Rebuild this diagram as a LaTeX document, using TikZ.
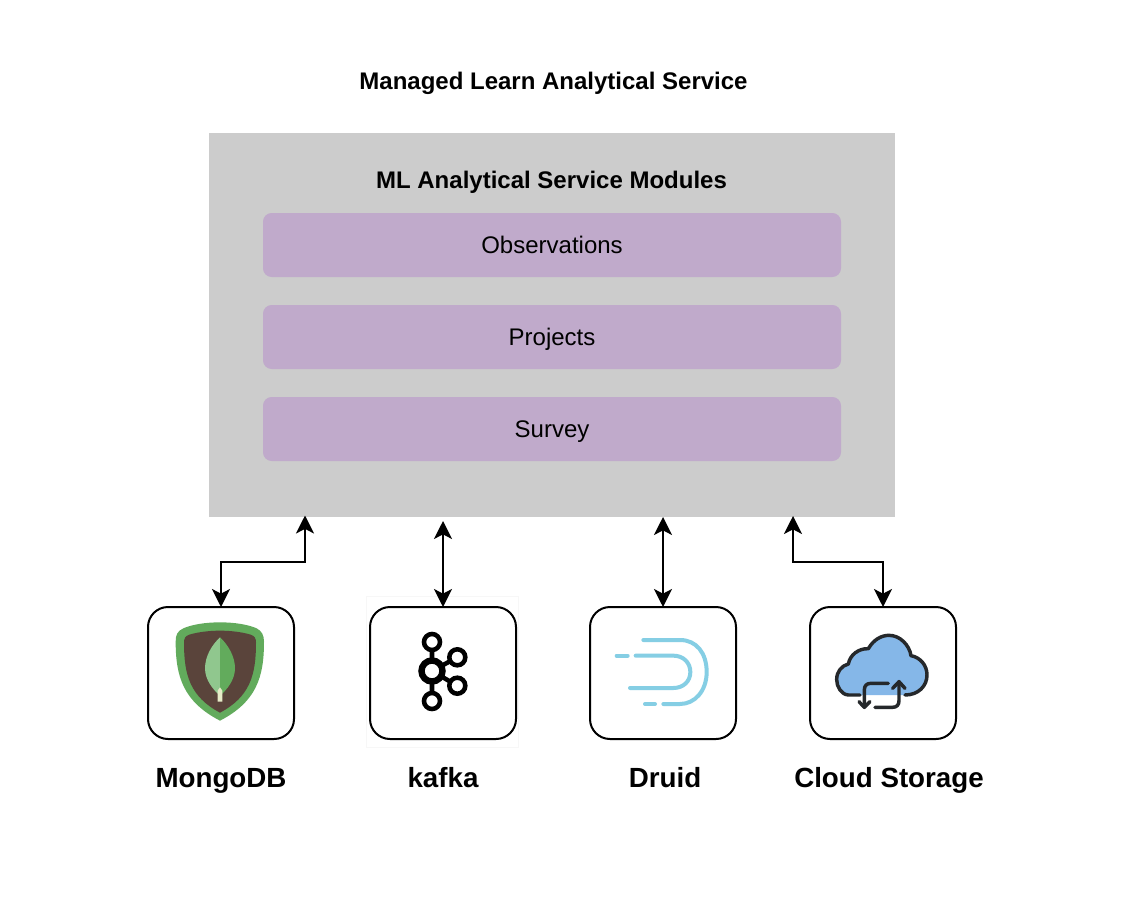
\documentclass[tikz,border=0pt]{standalone}
\usepackage{fontspec}
\setmainfont{Liberation Sans}
\usetikzlibrary{arrows.meta}
\definecolor{panelgrey}{HTML}{CCCCCC}
\definecolor{modpurple}{HTML}{C0AACB}
\definecolor{mgreen}{HTML}{62AB5C}
\definecolor{mlight}{HTML}{90C78E}
\definecolor{mbrown}{HTML}{5A443B}
\definecolor{mcream}{HTML}{E6ECC8}
\definecolor{dblue}{HTML}{85CEE4}
\definecolor{cblue}{HTML}{85B7E8}
\definecolor{cdark}{HTML}{25282B}
\tikzset{
  panel/.style={fill=panelgrey,draw=none,minimum width=514.5pt,minimum height=288pt,inner sep=0pt,outer sep=0pt},
  module/.style={fill=modpurple,draw=none,rounded corners=6.5pt,minimum width=433.5pt,minimum height=48pt,inner sep=0pt,outer sep=0pt},
  modlabel/.style={font=\fontsize{18}{20}\selectfont,inner sep=0pt,anchor=base},
  iconbox/.style={draw=black,fill=white,line width=1.5pt,rounded corners=15pt,minimum width=109.5pt,minimum height=99pt,inner sep=0pt,outer sep=0pt},
  heading/.style={font=\bfseries\fontsize{18}{20}\selectfont,inner sep=0pt,anchor=base},
  caption/.style={font=\bfseries\fontsize{20.8}{23}\selectfont,inner sep=0pt,anchor=base},
  link/.style={draw=black,line width=1.5pt,{Stealth[length=13.5pt,width=13.5pt,inset=3.5pt]}-{Stealth[length=13.5pt,width=13.5pt,inset=3.5pt]}},
  kafkaring/.style={draw=black,fill=white,line width=3.4pt},
  druidline/.style={draw=dblue,line width=3pt,line cap=round},
  cloudline/.style={draw=cdark,line width=2.6pt,line cap=round,line join=round}
}
\begin{document}
\begin{tikzpicture}[x=0.75pt,y=-0.75pt]
\useasboundingbox (0,0) rectangle (1124,920);
\fill[white] (0,0) rectangle (1124,920);

\node[heading] (title) at (553.5,89.5) {Managed Learn Analytical Service};
\node[panel] (main) at (552,325) {};
\node[heading] (modtitle) at (551.5,189) {ML Analytical Service Modules};
\node[module] (obs) at (552,245) {};
\node[module] (proj) at (552,337) {};
\node[module] (surv) at (552,429) {};
\node[modlabel] (obslabel) at (552,253) {Observations};
\node[modlabel] (projlabel) at (552,345) {Projects};
\node[modlabel] (survlabel) at (552,437) {Survey};

\draw[draw=black!3,line width=0.5pt] (366.5,596.5) rectangle (518.5,747.5);

\node[iconbox] (mongo) at (221,673) {};
\node[iconbox] (kafka) at (443,673) {};
\node[iconbox] (druid) at (663,673) {};
\node[iconbox] (cloud) at (883,673) {};

\node[caption] (mongolabel) at (221,787) {MongoDB};
\node[caption] (kafkalabel) at (443,787) {kafka};
\node[caption] (druidlabel) at (665,787) {Druid};
\node[caption] (cloudlabel) at (889,787) {Cloud Storage};

\coordinate (ma) at (305,515.5);
\coordinate (ka) at (443,521);
\coordinate (da) at (663,517);
\coordinate (ca) at (793,516);
\coordinate (mb) at (221,562);
\coordinate (cb) at (883,562);
\draw[link] (mongo.north) -- (mb) -| (ma);
\draw[link] (kafka.north) -- (ka);
\draw[link] (druid.north) -- (da);
\draw[link] (cloud.north) -- (cb) -| (ca);

% MongoDB icon
\begin{scope}[shift={(140,600)},x=0.25pt,y=-0.25pt]
\fill[mgreen] (240,67) .. controls (195,67) and (155,74) .. (130,85)
  .. controls (112,93) and (107,105) .. (107,125)
  .. controls (107,230) and (130,305) .. (240,362)
  .. controls (350,305) and (372,230) .. (372,125)
  .. controls (372,105) and (365,93) .. (350,85)
  .. controls (325,74) and (285,67) .. (240,67) -- cycle;
\fill[mbrown] (240,92) .. controls (205,92) and (170,97) .. (148,104)
  .. controls (136,108) and (132,115) .. (132,128)
  .. controls (132,225) and (150,290) .. (240,338)
  .. controls (330,290) and (348,225) .. (348,128)
  .. controls (348,115) and (344,108) .. (332,104)
  .. controls (310,97) and (275,92) .. (240,92) -- cycle;
\fill[mlight] (240,112) .. controls (215,135) and (195,170) .. (195,205)
  .. controls (195,240) and (220,270) .. (240,287) -- cycle;
\fill[mgreen] (240,112) .. controls (265,135) and (285,170) .. (285,205)
  .. controls (285,240) and (260,270) .. (240,287) -- cycle;
\fill[mcream] (233,305) -- (233,272) -- (240,262) -- (247,272) -- (247,305) -- cycle;
\end{scope}

% Kafka icon
\draw[line width=3.4pt] (432,642) -- (432,701) (432,671) -- (457.3,657.3) (432,671) -- (457.3,685.7);
\draw[kafkaring] (432,642) circle (8);
\draw[kafkaring] (432,701) circle (8);
\draw[kafkaring] (457.3,657.3) circle (8);
\draw[kafkaring] (457.3,685.7) circle (8);
\draw[kafkaring,line width=4.8pt] (432,671) circle (10.5);

% Druid icon
\begin{scope}[shift={(585,600)},x=0.25pt,y=-0.25pt]
\draw[druidline] (175,120) -- (285,120) .. controls (335,120) and (365,160) .. (365,216)
  .. controls (365,272) and (330,312) .. (285,312) -- (235,312);
\draw[druidline] (180,312) -- (210,312);
\draw[druidline] (152,167) -- (265,167) .. controls (295,167) and (316,188) .. (316,216)
  .. controls (316,244) and (295,264) .. (265,264) -- (135,264);
\draw[druidline] (95,167) -- (128,167);
\end{scope}

% Cloud icon
\begin{scope}[shift={(805,600)},x=0.25pt,y=-0.25pt]
\fill[cblue] (130,285) .. controls (108,283) and (95,260) .. (95,238)
  .. controls (95,215) and (110,197) .. (130,192)
  .. controls (135,165) and (160,145) .. (190,146)
  .. controls (205,120) and (228,106) .. (252,106)
  .. controls (285,106) and (313,135) .. (318,167)
  .. controls (345,172) and (366,195) .. (366,225)
  .. controls (366,258) and (340,285) .. (300,285) -- cycle;
\draw[cloudline] (165,285) -- (130,285) .. controls (108,283) and (95,260) .. (95,238)
  .. controls (95,215) and (110,197) .. (130,192)
  .. controls (135,165) and (160,145) .. (190,146)
  .. controls (205,120) and (228,106) .. (252,106)
  .. controls (285,106) and (313,135) .. (318,167)
  .. controls (345,172) and (366,195) .. (366,225)
  .. controls (366,258) and (340,285) .. (300,285);
\draw[cloudline] (250,250) -- (198,250) .. controls (185,250) and (178,257) .. (178,270) -- (178,322);
\draw[cloudline] (162,305) -- (178,322) -- (195,305);
\draw[cloudline] (210,322) -- (262,322) .. controls (275,322) and (282,315) .. (282,302) -- (282,245);
\draw[cloudline] (263,265) -- (282,245) -- (300,265);
\end{scope}
\end{tikzpicture}
\end{document}
